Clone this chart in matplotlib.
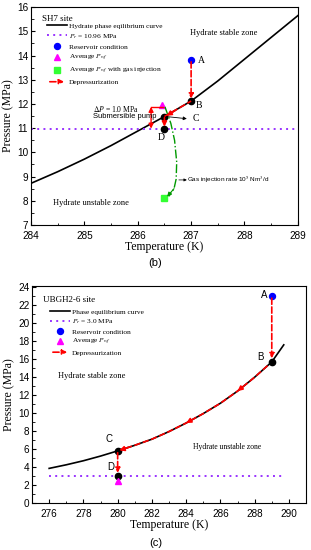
import numpy as np
import matplotlib
matplotlib.use("Agg")
import matplotlib.pyplot as plt
from matplotlib.lines import Line2D
from matplotlib.patches import FancyArrowPatch
from matplotlib.legend_handler import HandlerBase
from matplotlib.ticker import MultipleLocator

plt.rcParams['mathtext.fontset'] = 'stix'
SERIF = 'Liberation Serif'
SANS = 'Liberation Sans'

# ---- SH7 site (b) ----
sh7_T = [284.0, 284.5, 285.0, 285.5, 286.0, 286.5, 287.0, 287.5, 288.0, 288.5, 289.0]
sh7_P = [8.72, 9.20, 9.72, 10.28, 10.88, 11.48, 12.12, 12.95, 13.85, 14.75, 15.65]
sh7_pr = 10.96
sh7_A = (287.0, 13.82)
sh7_B = (287.0, 12.12)
sh7_C = (286.5, 11.48)
sh7_D = (286.5, 10.96)
sh7_pwf = (286.45, 11.97)
sh7_gas = (286.5, 8.12)
gas_T = [286.51, 286.62, 286.69, 286.73, 286.72, 286.68, 286.58]
gas_P = [11.88, 11.2, 10.5, 9.6, 8.9, 8.5, 8.18]

# ---- UBGH2-6 site (c) ----
ub_T = [276, 277, 278, 279, 280, 281, 282, 283, 284, 285, 286, 287, 288, 289, 289.7]
ub_P = [3.85, 4.25, 4.70, 5.22, 5.80, 6.42, 7.10, 7.95, 8.90, 9.95, 11.1, 12.45, 14.0, 15.7, 17.6]
ub_pr = 3.0
ub_A = (289.0, 23.0)
ub_B = (289.0, 15.7)
ub_C = (280.0, 5.8)
ub_D = (280.0, 3.0)
ub_pwf = (280.0, 2.4)

PURPLE = '#9933ff'


class ArrowHandler(HandlerBase):
    def create_artists(self, legend, orig, xd, yd, w, h, fontsize, trans):
        a = FancyArrowPatch((-xd, -yd + h / 2), (-xd + w, -yd + h / 2),
                            arrowstyle='-|>', mutation_scale=7, linestyle='--',
                            color='red', lw=1.2, transform=trans)
        return [a]


def red_arrow(ax, start, end, ls='--', style='-|>', lw=1.2):
    ax.annotate('', xy=end, xytext=start,
                arrowprops=dict(arrowstyle=style, ls=ls, color='red', lw=lw,
                                mutation_scale=7, shrinkA=0, shrinkB=0))


def style_axes(ax):
    ax.tick_params(which='both', direction='in', labelsize=7.2, pad=2)
    ax.tick_params(axis='x', pad=4)
    ax.tick_params(which='major', length=3)
    ax.tick_params(which='minor', length=1.8)
    for lab in ax.get_xticklabels() + ax.get_yticklabels():
        lab.set_fontfamily(SANS)
    ax.set_xlabel('Temperature (K)', fontfamily=SERIF, fontsize=8.5, labelpad=0)
    ax.set_ylabel('Pressure (MPa)', fontfamily=SERIF, fontsize=8.5, labelpad=2)
    for s in ax.spines.values():
        s.set_linewidth(0.8)


fig = plt.figure(figsize=(3.11, 5.5), dpi=100)

# ================= panel (b) =================
ax1 = fig.add_axes([0.0997, 0.591, 0.858, 0.396])
ax1.plot(sh7_T, sh7_P, color='black', lw=1.2)
ax1.axhline(sh7_pr, color=PURPLE, ls=(0, (1, 2.2)), lw=1.4)
ax1.plot(*sh7_A, 'o', color='blue', ms=4.3)
ax1.plot([sh7_B[0], sh7_C[0], sh7_D[0]], [sh7_B[1], sh7_C[1], sh7_D[1]], 'o',
         color='black', ms=4.5, ls='none')
ax1.plot(*sh7_pwf, '^', color='magenta', ms=5)
ax1.plot(gas_T, gas_P, color='#009900', ls='-.', lw=1.0)
ax1.annotate('', xy=(sh7_gas[0] + 0.05, sh7_gas[1] + 0.05), xytext=(gas_T[-2], gas_P[-2]),
             arrowprops=dict(arrowstyle='-|>', color='#009900', lw=0.8,
                             mutation_scale=6, shrinkA=0, shrinkB=0))
ax1.plot(*sh7_gas, 's', color='#33ff33', ms=4.3)

# depressurization arrows
red_arrow(ax1, (sh7_A[0], sh7_A[1] - 0.08), (sh7_B[0], sh7_B[1] + 0.1))
seg = [i for i, t in enumerate(sh7_T) if sh7_C[0] <= t <= sh7_B[0]]
ax1.plot([sh7_T[i] for i in seg], [sh7_P[i] for i in seg], color='red', ls='--', lw=1.2)
red_arrow(ax1, (286.7, 11.73), (sh7_C[0] + 0.04, sh7_C[1] + 0.03), ls='-')
red_arrow(ax1, (sh7_C[0], sh7_C[1] - 0.05), (sh7_D[0], sh7_D[1] + 0.1), ls='-')
# delta P bracket
ax1.plot([286.24, 286.47], [11.88, 11.88], color='red', lw=1.0)
red_arrow(ax1, (286.25, 11.88), (286.25, 10.98), ls='-', style='<|-|>', lw=1.0)
ax1.text(285.16, 11.80, r'$\Delta P$ = 1.0 MPa', fontfamily=SERIF, fontsize=5.5, va='center')
ax1.text(285.16, 11.48, 'Submersible pump', fontfamily=SANS, fontsize=5.5, va='center')
ax1.annotate('', xy=(286.92, 11.39), xytext=(sh7_C[0] + 0.03, sh7_C[1]),
             arrowprops=dict(arrowstyle='-|>', color='black', lw=0.6,
                             mutation_scale=5, shrinkA=0, shrinkB=0))
ax1.text(287.03, 11.38, 'C', fontfamily=SERIF, fontsize=7, va='center')
ax1.text(287.12, 13.78, 'A', fontfamily=SERIF, fontsize=7, va='center')
ax1.text(287.08, 11.92, 'B', fontfamily=SERIF, fontsize=7, va='center')
ax1.text(286.43, 10.62, 'D', fontfamily=SERIF, fontsize=7, va='center', ha='center')
ax1.annotate('', xy=(286.92, 8.86), xytext=(286.77, 8.86),
             arrowprops=dict(arrowstyle='-|>', color='black', lw=0.5,
                             mutation_scale=4, shrinkA=0, shrinkB=0))
ax1.text(286.93, 8.86, r'Gas injection rate 10$^5$ Nm$^3$/d', fontfamily=SANS,
         fontsize=4.6, va='center')
ax1.text(286.98, 14.93, 'Hydrate stable zone', fontfamily=SERIF, fontsize=6, va='center')
ax1.text(284.42, 7.9, 'Hydrate unstable zone', fontfamily=SERIF, fontsize=6, va='center')
ax1.text(0.04, 0.965, 'SH7 site', transform=ax1.transAxes, fontfamily=SERIF,
         fontsize=6.5, va='top')

h1 = [Line2D([], [], color='black', lw=1.2),
      Line2D([], [], color=PURPLE, ls=(0, (1, 2.2)), lw=1.4),
      Line2D([], [], color='blue', marker='o', ls='none', ms=4.3),
      Line2D([], [], color='magenta', marker='^', ls='none', ms=5),
      Line2D([], [], color='#33ff33', marker='s', ls='none', ms=4.3),
      FancyArrowPatch((0, 0), (1, 0))]
l1 = ['Hydrate phase eqilibrium curve', r'$P_r$ = 10.96 MPa', 'Reservoir condition',
      r'Average $P_{wf}$', r'Average $P_{wf}$ with gas injection', 'Depressurization']
ax1.legend(h1, l1, loc='upper left', bbox_to_anchor=(0.06, 0.928), frameon=False,
           prop={'family': SERIF, 'size': 5.3}, borderpad=0, borderaxespad=0,
           handlelength=2.7, handletextpad=0.3, labelspacing=0.4, numpoints=1,
           handler_map={FancyArrowPatch: ArrowHandler()})

ax1.set_xlim(284, 289)
ax1.set_ylim(7, 16)
ax1.xaxis.set_major_locator(MultipleLocator(1))
ax1.xaxis.set_minor_locator(MultipleLocator(0.5))
ax1.yaxis.set_major_locator(MultipleLocator(1))
ax1.yaxis.set_minor_locator(MultipleLocator(0.5))
style_axes(ax1)
fig.text(0.5, 1 - 263 / 550, '(b)', fontfamily=SANS, fontsize=8, ha='center', va='center')

# ================= panel (c) =================
ax2 = fig.add_axes([0.103, 0.0855, 0.881, 0.3945])
ax2.plot(ub_T, ub_P, color='black', lw=1.2)
ax2.plot([ub_T[0], ub_T[-1]], [ub_pr, ub_pr], color=PURPLE, ls=(0, (1, 2.2)), lw=1.4)
ax2.plot(*ub_A, 'o', color='blue', ms=4.3)
red_arrow(ax2, (ub_A[0], ub_A[1] - 0.2), (ub_B[0], ub_B[1] + 0.4))
seg = [i for i, t in enumerate(ub_T) if ub_C[0] <= t <= ub_B[0]]
ax2.plot([ub_T[i] for i in seg], [ub_P[i] for i in seg], color='red', ls='--', lw=1.2)
for i in (11, 8):
    red_arrow(ax2, (ub_T[i] + 0.3, np.interp(ub_T[i] + 0.3, ub_T, ub_P)),
              (ub_T[i], ub_P[i]), ls='-')
red_arrow(ax2, (280.6, np.interp(280.6, ub_T, ub_P)), (ub_C[0] + 0.1, ub_C[1] + 0.05), ls='-')
red_arrow(ax2, (ub_C[0], ub_C[1] - 0.2), (ub_D[0], ub_D[1] + 0.35))
ax2.plot([ub_B[0], ub_C[0], ub_D[0]], [ub_B[1], ub_C[1], ub_D[1]], 'o', color='black',
         ms=4.5, ls='none')
ax2.plot(*ub_pwf, '^', color='magenta', ms=5)
ax2.text(288.75, 23.1, 'A', fontfamily=SANS, fontsize=7, va='center', ha='right')
ax2.text(288.5, 16.3, 'B', fontfamily=SANS, fontsize=7, va='center', ha='right')
ax2.text(279.7, 7.1, 'C', fontfamily=SANS, fontsize=7, va='center', ha='right')
ax2.text(279.8, 3.95, 'D', fontfamily=SANS, fontsize=7, va='center', ha='right')
ax2.text(276.5, 14.1, 'Hydrate stable zone', fontfamily=SERIF, fontsize=6, va='center')
ax2.text(284.4, 6.25, 'Hydrate unstable zone', fontfamily=SERIF, fontsize=5.5, va='center')
ax2.text(0.04, 0.955, 'UBGH2-6 site', transform=ax2.transAxes, fontfamily=SERIF,
         fontsize=6.5, va='top')

h2 = [Line2D([], [], color='black', lw=1.2),
      Line2D([], [], color=PURPLE, ls=(0, (1, 2.2)), lw=1.4),
      Line2D([], [], color='blue', marker='o', ls='none', ms=4.3),
      Line2D([], [], color='magenta', marker='^', ls='none', ms=5),
      FancyArrowPatch((0, 0), (1, 0))]
l2 = ['Phase equilibrium curve', r'$P_r$ = 3.0 MPa', 'Reservoir condition',
      r'Average $P_{wf}$', 'Depressurization']
ax2.legend(h2, l2, loc='upper left', bbox_to_anchor=(0.066, 0.895), frameon=False,
           prop={'family': SERIF, 'size': 5.3}, borderpad=0, borderaxespad=0,
           handlelength=2.7, handletextpad=0.3, labelspacing=0.32, numpoints=1,
           handler_map={FancyArrowPatch: ArrowHandler()})

ax2.set_xlim(275, 291)
ax2.set_ylim(0, 24.15)
ax2.xaxis.set_major_locator(MultipleLocator(2))
ax2.xaxis.set_minor_locator(MultipleLocator(1))
ax2.yaxis.set_major_locator(MultipleLocator(2))
ax2.yaxis.set_minor_locator(MultipleLocator(1))
style_axes(ax2)
fig.text(0.5, 1 - 543 / 550, '(c)', fontfamily=SANS, fontsize=8, ha='center', va='center')

fig.savefig('out.png', dpi=100)
